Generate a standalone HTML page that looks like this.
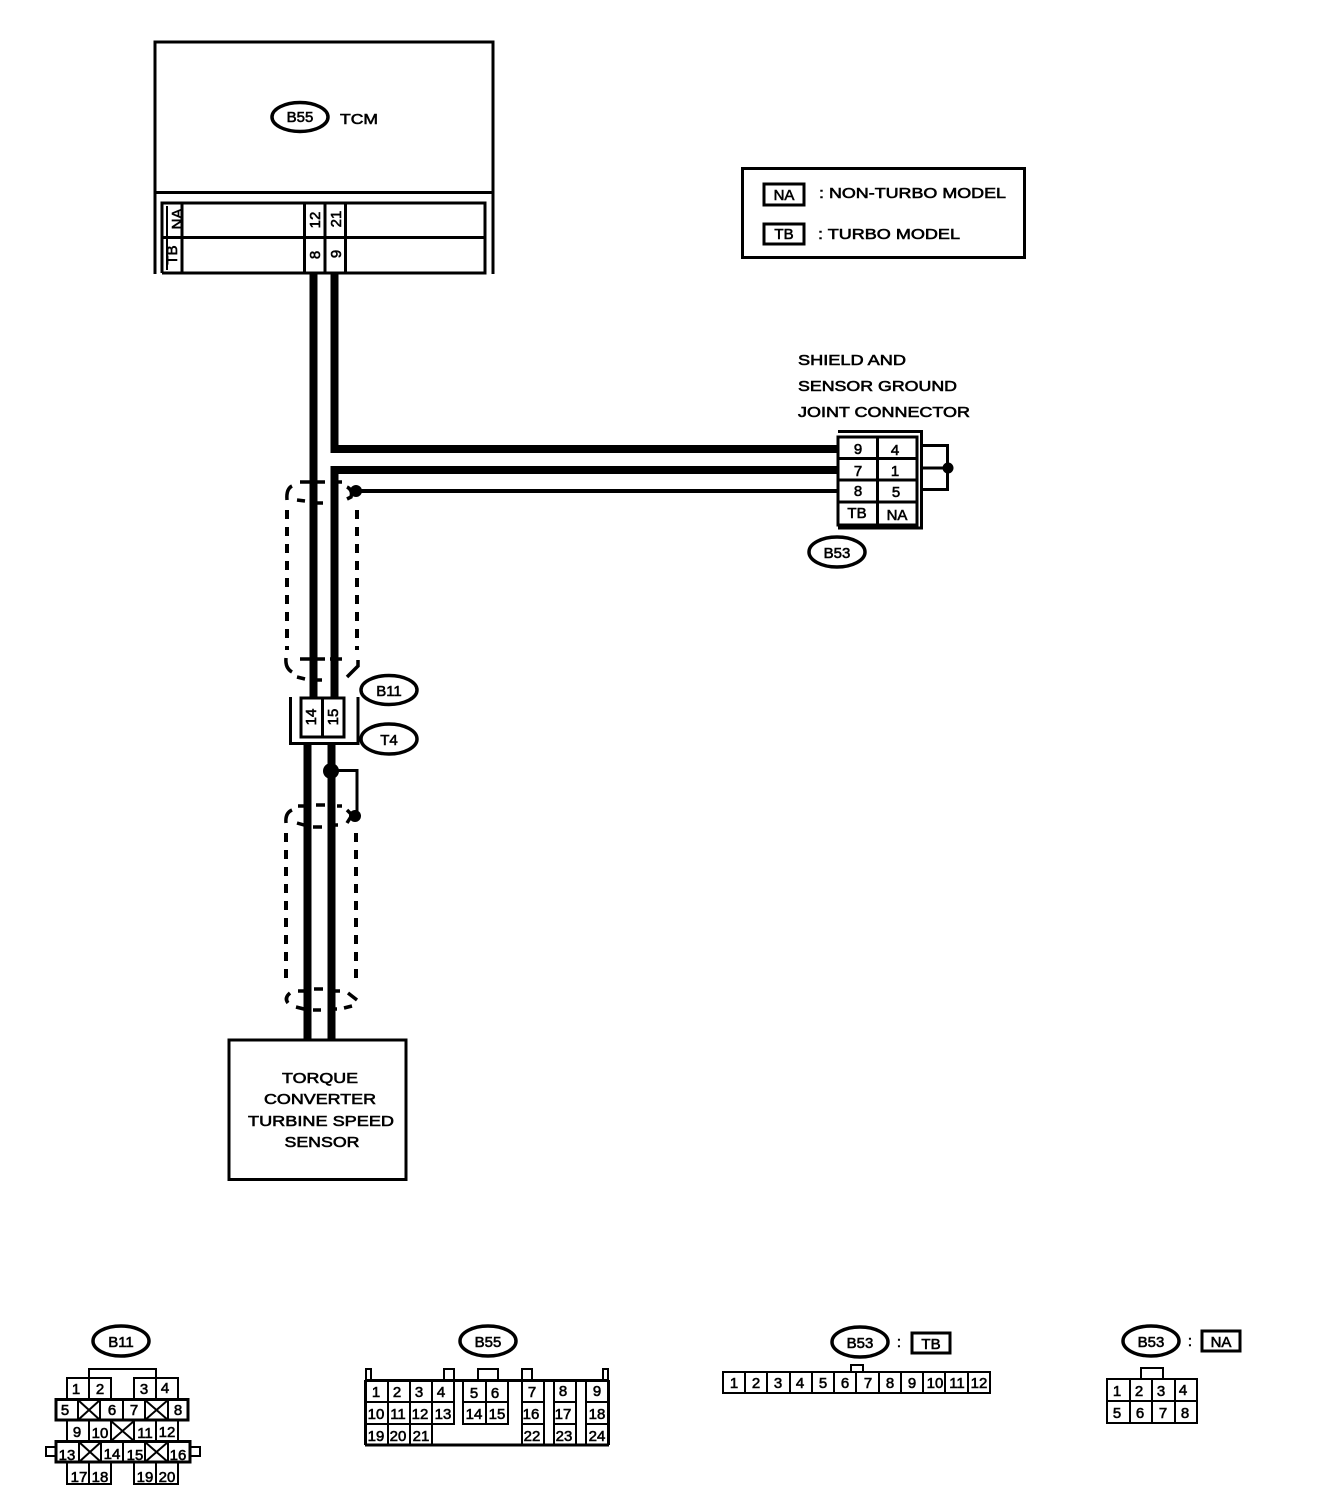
<!DOCTYPE html>
<html>
<head>
<meta charset="utf-8">
<style>
html,body{margin:0;padding:0;background:#fff;}
svg{display:block;}
text{font-family:"Liberation Sans",sans-serif;fill:#000;stroke:#000;stroke-width:.6;text-anchor:middle;font-size:15px;}
.s{text-anchor:start;font-size:15px;}
.b{font-size:15px;}
.n{fill:none;stroke:#000;stroke-width:2;}
.m{fill:none;stroke:#000;stroke-width:3;}
.e{fill:#fff;stroke:#000;stroke-width:3.500;}
.w{fill:none;stroke:#000;stroke-width:8;}
.d{fill:none;stroke:#000;stroke-width:4;stroke-dasharray:9 8;}
.a{fill:none;stroke:#000;stroke-width:3.500;}
</style>
</head>
<body>
<svg width="1344" height="1502" viewBox="0 0 1344 1502" xmlns="http://www.w3.org/2000/svg">
<rect width="1344" height="1502" fill="#fff"/>

<!-- TCM -->
<path class="m" d="M155 274V42H493V274"/>
<path class="m" d="M155 192.500H493"/>
<path class="m" d="M162 273V203H485V273H162M162 237.500H485M182 203V273M304.500 203V273M325 203V273M345.500 203V273"/>
<path d="M166 206h2v64h-2z"/>
<ellipse class="e" cx="300" cy="117" rx="28" ry="14.500"/>
<text class="b" x="300" y="122">B55</text>
<text class="b" x="359" y="124" textLength="38" lengthAdjust="spacingAndGlyphs">TCM</text>
<text transform="translate(177,219) rotate(-90)" y="5">NA</text>
<text transform="translate(172,255) rotate(-90)" y="5">TB</text>
<text transform="translate(315,220) rotate(-90)" y="5">12</text>
<text transform="translate(336,219) rotate(-90)" y="5">21</text>
<text transform="translate(315,255) rotate(-90)" y="5">8</text>
<text transform="translate(336,254) rotate(-90)" y="5">9</text>

<!-- Legend -->
<rect class="m" x="742.500" y="168.500" width="282" height="89"/>
<rect class="m" x="764" y="184" width="40" height="21"/>
<text class="b" x="784" y="200">NA</text>
<rect class="m" x="764" y="224" width="40" height="20"/>
<text class="b" x="784" y="239">TB</text>
<text class="s" x="819" y="198" textLength="187" lengthAdjust="spacingAndGlyphs">: NON-TURBO MODEL</text>
<text class="s" x="818" y="239" textLength="142" lengthAdjust="spacingAndGlyphs">: TURBO MODEL</text>

<!-- Shield label -->
<text class="s" x="798" y="365" textLength="108" lengthAdjust="spacingAndGlyphs">SHIELD AND</text>
<text class="s" x="798" y="391" textLength="159" lengthAdjust="spacingAndGlyphs">SENSOR GROUND</text>
<text class="s" x="798" y="417" textLength="172" lengthAdjust="spacingAndGlyphs">JOINT CONNECTOR</text>

<!-- Wires -->
<path class="w" d="M313.500 274V698"/>
<path class="w" d="M334.500 274V449H839"/>
<path class="w" d="M839 470H334.500V698"/>
<path fill="none" stroke="#000" stroke-width="4" d="M355 491H839"/>
<path class="w" d="M307.500 744V1040"/>
<path class="w" d="M331.500 744V1040"/>
<circle cx="331" cy="771" r="8"/>
<path class="m" d="M331 770.500H357V816"/>
<circle cx="355" cy="816" r="6"/>
<circle cx="356" cy="491" r="6"/>

<!-- Shields -->
<path class="d" d="M287 510V650"/>
<path class="d" d="M357 510V650"/>
<path class="d" d="M286 833V985"/>
<path class="d" d="M356 833V985"/>

<path class="a" d="M292 486Q286 489 287 500M297 500L305 501M300 482H325M315 503H323M333 482H342M333 502H338M347 487Q353 490 351 497L347 499"/>
<path class="a" d="M286 658Q285 668 292 672M300 659H325M330 659H342M297 677L305 679M315 680H322M333 678H338M358 660V666L347 677"/>
<path class="a" d="M292 810Q285 813 286 823M298 806H304M316 805H325M337 806H342M297 823L304 825M313 827H322M335 825H338M347 810L352 815L347 823"/>
<path class="a" d="M290 993Q284 998 288 1003M298 991H304M314 989H323M335 991H340M296 1007L304 1009M313 1010H321M333 1009H337M344 1008L352 1006M348 993L357 1000"/>

<!-- B53 joint connector -->
<path class="m" d="M838 431.500H921.500V528H838"/>
<rect x="838" y="437" width="79" height="88" fill="#fff" stroke="#000" stroke-width="3"/>
<path class="m" d="M838 458.500H917M838 480H917M838 502H917M877.500 437V525"/>
<path class="m" d="M922 445.500H947.500V489.500H922M922 468H947"/>
<circle cx="948" cy="468" r="5.500"/>
<text class="b" x="858" y="454">9</text>
<text class="b" x="895" y="455">4</text>
<text class="b" x="858" y="476">7</text>
<text class="b" x="895" y="476">1</text>
<text class="b" x="858" y="496">8</text>
<text class="b" x="896" y="497">5</text>
<text class="b" x="857" y="518">TB</text>
<text class="b" x="897" y="520">NA</text>
<ellipse class="e" cx="837" cy="552" rx="28" ry="15"/>
<text class="b" x="837" y="558">B53</text>

<!-- B11/T4 -->
<path class="m" d="M290.500 697V743.500H358V697"/>
<rect x="301" y="698" width="43" height="39" fill="#fff" stroke="#000" stroke-width="3"/>
<path class="m" d="M322.500 698V737"/>
<text transform="translate(311,717) rotate(-90)" y="5">14</text>
<text transform="translate(333,717) rotate(-90)" y="5">15</text>
<ellipse class="e" cx="389" cy="690" rx="28" ry="14.500"/>
<text class="b" x="389" y="696">B11</text>
<ellipse class="e" cx="389" cy="739" rx="28" ry="15"/>
<text class="b" x="389" y="745">T4</text>

<!-- Sensor -->
<rect class="m" x="229" y="1040" width="177" height="139.500"/>
<text class="b" x="320" y="1083" textLength="76" lengthAdjust="spacingAndGlyphs">TORQUE</text>
<text class="b" x="320" y="1104" textLength="112" lengthAdjust="spacingAndGlyphs">CONVERTER</text>
<text class="b" x="321" y="1126" textLength="146" lengthAdjust="spacingAndGlyphs">TURBINE SPEED</text>
<text class="b" x="322" y="1147" textLength="75" lengthAdjust="spacingAndGlyphs">SENSOR</text>

<!-- Bottom B11 -->
<ellipse class="e" cx="121" cy="1341" rx="28" ry="15"/>
<text class="b" x="121" y="1347">B11</text>
<path class="n" d="M89 1378V1369H156V1378"/>
<path class="n" d="M67 1399V1378H111V1399M89 1378V1399M134 1399V1378H178V1399M156 1378V1399"/>
<path class="m" d="M56 1399.500H188V1420H56Z"/>
<path class="n" d="M78 1400V1420M100 1400V1420M123 1400V1420M145 1400V1420M168 1400V1420"/>
<path class="n" d="M78 1400L100 1420M100 1400L78 1420M145 1400L168 1420M168 1400L145 1420"/>
<path class="n" d="M67 1420V1441M89 1420V1441M111 1420V1441M134 1420V1441M156 1420V1441M178 1420V1441"/>
<path class="n" d="M111 1421L134 1441M134 1421L111 1441"/>
<path class="m" d="M56 1441.500H190V1462H56Z"/>
<path class="n" d="M79 1442V1462M101 1442V1462M123 1442V1462M145 1442V1462M168 1442V1462"/>
<path class="n" d="M79 1442L101 1462M101 1442L79 1462M145 1442L168 1462M168 1442L145 1462"/>
<path class="n" d="M56 1447H46V1456H56M190 1447H200V1456H190"/>
<path class="n" d="M67 1462V1484H111V1462M89 1462V1484M134 1462V1484H178V1462M156 1462V1484"/>
<text x="76" y="1394">1</text><text x="100" y="1394">2</text><text x="144" y="1394">3</text><text x="165" y="1393">4</text>
<text x="65" y="1415">5</text><text x="112" y="1415">6</text><text x="134" y="1415">7</text><text x="178" y="1415">8</text>
<text x="77" y="1437">9</text><text x="100" y="1438">10</text><text x="145" y="1438">11</text><text x="167" y="1437">12</text>
<text x="67" y="1460">13</text><text x="112" y="1459">14</text><text x="135" y="1460">15</text><text x="178" y="1460">16</text>
<text x="79" y="1482">17</text><text x="100" y="1482">18</text><text x="145" y="1482">19</text><text x="167" y="1482">20</text>

<!-- Bottom B55 -->
<ellipse class="e" cx="488" cy="1341" rx="28" ry="15"/>
<text class="b" x="488" y="1347">B55</text>
<path class="n" d="M366 1380V1369H371V1380M444 1380V1369H454V1380M478 1380V1369H498V1380M522 1380V1369H532V1380M603 1380V1369H608V1380"/>
<path class="m" d="M365 1380.500H609"/>
<path class="m" d="M365 1445H609"/>
<path class="m" d="M365.500 1380V1445M608.500 1380V1445"/>
<path class="n" d="M366 1402H454M366 1424H432M388 1380V1445M410 1380V1445M432 1380V1445M454 1380V1424H432"/>
<path class="n" d="M463 1380V1424H508V1380M463 1402H508M486 1380V1424"/>
<path class="n" d="M522 1380V1445M544 1380V1445M522 1402H544M522 1424H544"/>
<path class="n" d="M554 1380V1445M576 1380V1445M554 1402H576M554 1424H576"/>
<path class="n" d="M586 1380V1445M586 1402H608M586 1424H608"/>
<text x="376" y="1397">1</text><text x="397" y="1397">2</text><text x="419" y="1397">3</text><text x="441" y="1397">4</text>
<text x="474" y="1398">5</text><text x="495" y="1398">6</text><text x="532" y="1397">7</text><text x="563" y="1396">8</text><text x="597" y="1396">9</text>
<text x="376" y="1419">10</text><text x="398" y="1419">11</text><text x="420" y="1419">12</text><text x="443" y="1419">13</text>
<text x="474" y="1419">14</text><text x="497" y="1419">15</text><text x="531" y="1419">16</text><text x="563" y="1419">17</text><text x="597" y="1419">18</text>
<text x="376" y="1441">19</text><text x="398" y="1441">20</text><text x="421" y="1441">21</text>
<text x="532" y="1441">22</text><text x="564" y="1441">23</text><text x="597" y="1441">24</text>

<!-- Bottom B53 TB -->
<ellipse class="e" cx="860" cy="1342" rx="28" ry="15"/>
<text class="b" x="860" y="1348">B53</text>
<text class="b" x="899" y="1347">:</text>
<rect class="m" x="912" y="1333" width="38" height="20"/>
<text class="b" x="931" y="1349">TB</text>
<path class="n" d="M851 1372V1365H863V1372"/>
<path class="n" d="M723 1372H990V1393H723ZM745 1372V1393M767 1372V1393M790 1372V1393M812 1372V1393M834 1372V1393M856 1372V1393M879 1372V1393M901 1372V1393M923 1372V1393M945 1372V1393M968 1372V1393"/>
<text x="734" y="1388">1</text><text x="756" y="1388">2</text><text x="778" y="1388">3</text><text x="800" y="1388">4</text><text x="823" y="1388">5</text><text x="845" y="1388">6</text><text x="868" y="1388">7</text><text x="890" y="1388">8</text><text x="912" y="1388">9</text><text x="935" y="1388">10</text><text x="957" y="1388">11</text><text x="979" y="1388">12</text>

<!-- Bottom B53 NA -->
<ellipse class="e" cx="1151" cy="1341" rx="28" ry="15"/>
<text class="b" x="1151" y="1347">B53</text>
<text class="b" x="1190" y="1346">:</text>
<rect class="m" x="1202" y="1331" width="38" height="20"/>
<text class="b" x="1221" y="1347">NA</text>
<path class="n" d="M1141 1379V1368H1163V1379"/>
<path class="n" d="M1107 1379H1197V1423H1107ZM1107 1401H1197M1130 1379V1423M1152 1379V1423M1175 1379V1423"/>
<text x="1117" y="1396">1</text><text x="1139" y="1396">2</text><text x="1161" y="1396">3</text><text x="1183" y="1395">4</text>
<text x="1117" y="1418">5</text><text x="1140" y="1418">6</text><text x="1163" y="1418">7</text><text x="1185" y="1418">8</text>
</svg>
</body>
</html>
